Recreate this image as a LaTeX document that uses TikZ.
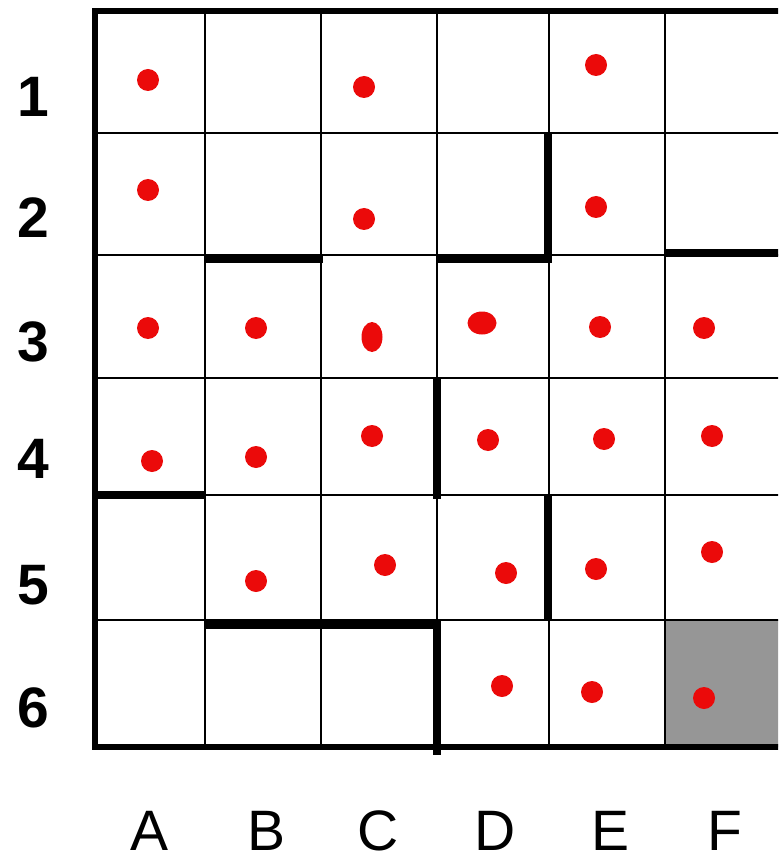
\documentclass[tikz,border=0pt]{standalone}
\usepackage{fontspec}
\setmainfont{Liberation Sans}
\definecolor{dotred}{RGB}{235,10,10}
\definecolor{goalgray}{RGB}{150,150,150}

\begin{document}
\begin{tikzpicture}[
    x=1pt, y=-1pt,
    gridline/.style={line width=2.5pt},
    border/.style={line width=6pt, line join=miter},
    wall/.style={line width=8pt},
    dot/.style={fill=dotred},
    rowlab/.style={font=\fontsize{57}{57}\selectfont\bfseries, inner sep=0pt},
    collab/.style={font=\fontsize{57}{57}\selectfont, inner sep=0pt},
]
\useasboundingbox (0,0) rectangle (778,858);
\clip (0,0) rectangle (778,858);

% goal cell F6
\fill[goalgray] (665,620) rectangle (790,747);

% grid
\foreach \x in {205,321,437,549,665}
    \draw[gridline] (\x,11) -- (\x,747);
\foreach \y in {133,255,378,495,620}
    \draw[gridline] (95,\y) -- (790,\y);
\draw[border] (95,11) rectangle (800,747);

% walls
\draw[wall] (205,259) -- (323,259);
\draw[wall] (438,259) -- (552,259);
\draw[wall] (665,253) -- (790,253);
\draw[wall] (548,133) -- (548,263);
\draw[wall] (437,378) -- (437,499);
\draw[wall] (95,495) -- (205,495);
\draw[wall] (548,495) -- (548,620);
\draw[wall] (205,625) -- (437,625);
\draw[wall] (437,620) -- (437,755);

% dots
\foreach \x/\y in {148/80, 364/87, 596/65,
                   148/190, 364/219, 596/207,
                   148/328, 256/328, 600/327, 704/328,
                   152/461, 256/457, 372/436, 488/440, 604/439, 712/436,
                   256/581, 385/565, 506/573, 596/569, 712/552,
                   502/686, 592/692, 704/698}
    \fill[dot] (\x,\y) circle[radius=11];
\fill[dot] (372,337) ellipse[x radius=10.5, y radius=15];
\fill[dot] (482,323) ellipse[x radius=14.5, y radius=11.5];

% labels
\node[rowlab] (r1) at (33,97) {1};
\node[rowlab] (r2) at (33,218) {2};
\node[rowlab] (r3) at (33,342) {3};
\node[rowlab] (r4) at (33,459) {4};
\node[rowlab] (r5) at (33,585) {5};
\node[rowlab] (r6) at (33,708) {6};

\node[collab] (cA) at (150,831) {A};
\node[collab] (cB) at (267,831) {B};
\node[collab] (cC) at (378,831) {C};
\node[collab] (cD) at (495,831) {D};
\node[collab] (cE) at (610,831) {E};
\node[collab] (cF) at (725,831) {F};
\end{tikzpicture}
\end{document}
